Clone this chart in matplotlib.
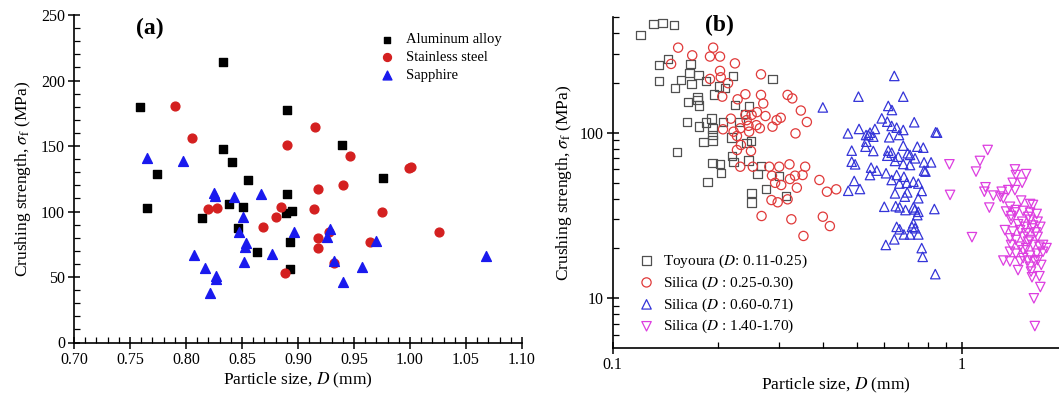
import matplotlib

matplotlib.use("Agg")
import matplotlib.pyplot as plt
from matplotlib.ticker import FixedLocator, MultipleLocator, NullFormatter

plt.rcParams["font.family"] = ["Liberation Serif", "DejaVu Serif"]
plt.rcParams["mathtext.fontset"] = "stix"

# ---- panel (a): particle size vs crushing strength, single particles ----
alu_d = [0.759, 0.833, 0.890, 0.833, 0.841, 0.774, 0.855, 0.890, 0.765, 0.814,
         0.838, 0.851, 0.846, 0.863, 0.889, 0.895, 0.893, 0.893, 0.939, 0.976]
alu_s = [179.7, 214, 177.5, 147.7, 137.8, 128.6, 124, 113.4, 102.7, 95,
         105.5, 103.7, 87.6, 69, 99, 100.6, 76.7, 55.9, 150.5, 125.3]

steel_d = [0.790, 0.805, 0.890, 0.820, 0.828, 0.885, 0.880, 0.869, 0.888, 0.915,
           0.946, 0.999, 1.001, 0.918, 0.940, 0.914, 0.975, 1.026, 0.928, 0.918,
           0.918, 0.964, 0.932]
steel_s = [180.8, 156.4, 150.5, 101.7, 102.4, 103.7, 95.5, 88.4, 52.8, 164.7,
           142.4, 133, 134.2, 117.4, 120, 102.1, 99.4, 84.6, 84.6, 80,
           72.4, 77, 60.5]

sapph_d = [0.765, 0.797, 0.825, 0.826, 0.843, 0.867, 0.851, 0.847, 0.854, 0.853,
           0.896, 0.877, 0.852, 0.807, 0.817, 0.827, 0.827, 0.821, 0.929, 0.926,
           0.970, 0.932, 0.957, 0.940, 1.068]
sapph_s = [141, 138.8, 113.9, 111.8, 111.3, 113.4, 96, 84.4, 75.7, 72.7,
           84.4, 67.6, 61.7, 66.8, 57.1, 50.8, 48.5, 38, 86.4, 80.8,
           77.7, 62.5, 57.9, 46, 66.3]

# ---- panel (b): sands ----
toy_d = [0.12, 0.131, 0.139, 0.150, 0.144, 0.136, 0.167, 0.166, 0.176, 0.136,
         0.157, 0.168, 0.185, 0.221, 0.287, 0.202, 0.210, 0.151, 0.195, 0.175,
         0.175, 0.177, 0.164, 0.224, 0.246, 0.239, 0.192, 0.163, 0.185, 0.177,
         0.193, 0.207, 0.231, 0.193, 0.219, 0.182, 0.193, 0.249, 0.242, 0.153,
         0.220, 0.222, 0.245, 0.193, 0.203, 0.204, 0.187, 0.266, 0.260, 0.300,
         0.275, 0.250, 0.250, 0.314]
toy_s = [389, 453, 458, 445, 279, 256, 259, 230, 223, 206,
         208, 197, 205, 220, 210, 190, 186, 186, 170, 164,
         158, 146, 153, 147, 144, 130, 122, 116, 115, 109,
         106, 116, 116, 96.8, 93.3, 88.2, 89.5, 89, 86.3, 76.5,
         72.6, 66.8, 67.8, 65.9, 64.4, 57.3, 50.6, 63.2, 56.3, 55,
         45.7, 43.4, 37.8, 41.6]

sil1_d = [0.154, 0.169, 0.194, 0.190, 0.203, 0.147, 0.224, 0.203, 0.204, 0.190,
          0.214, 0.266, 0.206, 0.228, 0.240, 0.266, 0.270, 0.317, 0.327, 0.346,
          0.360, 0.334, 0.259, 0.274, 0.240, 0.250, 0.218, 0.242, 0.258, 0.287,
          0.295, 0.303, 0.264, 0.245, 0.232, 0.207, 0.222, 0.227, 0.246, 0.233,
          0.227, 0.249, 0.232, 0.252, 0.281, 0.300, 0.321, 0.356, 0.286, 0.333,
          0.350, 0.292, 0.304, 0.322, 0.337, 0.391, 0.411, 0.437, 0.285, 0.297,
          0.317, 0.267, 0.325, 0.400, 0.419, 0.352]
sil1_s = [326, 293, 326, 288, 288, 260, 262, 236, 216, 211,
          199, 225, 165, 159, 170.6, 169, 150, 169, 161, 136,
          116, 99, 133, 126, 128, 128, 121.5, 119, 111, 108.7,
          119, 123, 106.3, 110, 106.3, 104.8, 101.4, 95.5, 101.4, 84.3,
          78.6, 77.5, 62.3, 62.3, 62.3, 62.3, 64.4, 62.3, 55, 55,
          55.5, 49.8, 48.3, 52.5, 46.5, 51.8, 44, 45.5, 39.2, 38,
          39.6, 31.4, 30, 31.1, 27.3, 23.8]

sil2_d = [0.641, 0.506, 0.680, 0.400, 0.616, 0.631, 0.590, 0.612, 0.731, 0.630,
          0.651, 0.680, 0.508, 0.564, 0.472, 0.546, 0.532, 0.558, 0.620, 0.661,
          0.842, 0.533, 0.530, 0.484, 0.558, 0.616, 0.630, 0.680, 0.700, 0.746,
          0.776, 0.612, 0.658, 0.711, 0.735, 0.484, 0.495, 0.644, 0.680, 0.711,
          0.780, 0.817, 0.550, 0.571, 0.607, 0.546, 0.651, 0.683, 0.780, 0.630,
          0.663, 0.696, 0.727, 0.751, 0.492, 0.473, 0.511, 0.644, 0.698, 0.768,
          0.687, 0.751, 0.600, 0.647, 0.690, 0.735, 0.746, 0.835, 0.651, 0.664,
          0.683, 0.711, 0.735, 0.720, 0.751, 0.727, 0.606, 0.641, 0.768, 0.773,
          0.840, 0.664, 0.727, 0.751, 0.850, 0.540, 0.787]
sil2_s = [220, 165, 165, 142, 145, 137, 122, 116.5, 115.6, 109.8,
          107.2, 103.8, 105.3, 105.3, 99, 100, 96.8, 94.6, 93.8, 96.8,
          100.5, 88.2, 82.3, 77.9, 77.5, 77.9, 75.7, 83.5, 75.1, 82.3,
          81.2, 72.6, 71.6, 73.4, 70, 66.8, 64.4, 67.5, 64.7, 63.8,
          66.2, 66.2, 61.5, 59, 56.9, 55.5, 55.5, 54.2, 59, 51.8,
          49.3, 49.8, 50.6, 49.3, 51.1, 44.6, 45.7, 43, 43.6, 44.5,
          41.1, 40.2, 35.7, 36, 34.1, 34.4, 31.8, 34.6, 27, 26.1,
          24.3, 24.3, 26.5, 27, 24.3, 28.4, 21, 22.7, 20.1, 17.8,
          14, 35.4, 35.4, 33.3, 100, 96.8, 58.2]

sil3_d = [1.187, 1.128, 0.922, 1.099, 1.421, 1.43, 1.53, 0.926, 1.17, 1.40,
          1.49, 1.161, 1.232, 1.302, 1.36, 1.421, 1.316, 1.29, 1.48, 1.2,
          1.07, 1.375, 1.43, 1.57, 1.60, 1.34, 1.385, 1.50, 1.57, 1.64,
          1.385, 1.49, 1.57, 1.65, 1.33, 1.40, 1.47, 1.53, 1.59, 1.65,
          1.71, 1.75, 1.375, 1.43, 1.50, 1.57, 1.385, 1.47, 1.53, 1.60,
          1.67, 1.375, 1.43, 1.50, 1.57, 1.64, 1.71, 1.316, 1.375, 1.47,
          1.55, 1.62, 1.69, 1.45, 1.57, 1.59, 1.67, 1.68, 1.61, 1.62,
          1.45, 1.52, 1.60, 1.55, 1.63, 1.42, 1.55, 1.68, 1.50, 1.58, 1.65]
sil3_s = [78.6, 67.5, 64.4, 58.2, 60, 55.5, 56.2, 42.1, 46.8, 49.8,
          49.8, 44, 41.7, 44, 45, 45, 40.2, 41.1, 38.9, 35.3,
          23.4, 35.7, 34.1, 37.1, 36.6, 33.4, 31.4, 33.7, 32.9, 32.3,
          29.8, 29, 29.8, 29, 25.8, 25.3, 25.8, 24.7, 26.4, 23.5,
          21, 20.1, 23, 22.5, 23.5, 22.5, 21, 20.5, 20.1, 21,
          20.5, 19.1, 18.6, 19.5, 18.1, 18.6, 19.1, 16.9, 16.7, 16.7,
          16.9, 16.7, 15.9, 14.8, 15.5, 13.4, 13.6, 11.7, 10, 6.8,
          28, 27, 27.5, 22, 25, 33, 31, 27, 17.5, 14.5, 17]

fig = plt.figure(figsize=(10.59, 4.0), dpi=100)

# ---------------- (a) ----------------
ax1 = fig.add_axes([74 / 1059, 0.14375, 448 / 1059, 0.81875])
ax1.scatter(alu_d, alu_s, marker="s", s=30, color="black", label="Aluminum alloy", zorder=3)
ax1.scatter(steel_d, steel_s, marker="o", s=40, color="#d42020", label="Stainless steel", zorder=3)
ax1.scatter(sapph_d, sapph_s, marker="^", s=50, color="#1a1aee", label="Sapphire", zorder=3)
ax1.set_xlim(0.70, 1.10)
ax1.set_ylim(0, 250)
ax1.xaxis.set_major_locator(MultipleLocator(0.05))
ax1.xaxis.set_minor_locator(MultipleLocator(0.01))
ax1.yaxis.set_major_locator(MultipleLocator(50))
ax1.yaxis.set_minor_locator(MultipleLocator(10))
ax1.xaxis.set_major_formatter(plt.FuncFormatter(lambda v, p: f"{v:.2f}"))
ax1.set_xlabel("Particle size, $D$ (mm)", fontsize=12.5, labelpad=2)
ax1.set_ylabel(r"Crushing strength, $\sigma_\mathrm{f}$ (MPa)", fontsize=12.5, labelpad=6)
ax1.text(0.17, 0.96, "(a)", transform=ax1.transAxes, fontsize=17, fontweight="bold",
         ha="center", va="center")
ax1.legend(loc="upper left", bbox_to_anchor=(0.67, 0.962), frameon=False, fontsize=10.5,
           handletextpad=0.8, labelspacing=0.3, borderaxespad=0, handlelength=1.0,
           markerscale=0.9)

# ---------------- (b) ----------------
ax2 = fig.add_axes([612.7 / 1059, 0.1295, 446.3 / 1059, 0.8283])
ax2.set_xscale("log")
ax2.set_yscale("log")
ax2.scatter(toy_d, toy_s, marker="s", s=36, facecolors="none", edgecolors="#505050",
            linewidths=0.9, label="Toyoura ($D$: 0.11-0.25)")
ax2.scatter(sil1_d, sil1_s, marker="o", s=44, facecolors="none", edgecolors="#e03a3a",
            linewidths=0.9, label="Silica ($D$ : 0.25-0.30)")
ax2.scatter(sil2_d, sil2_s, marker="^", s=46, facecolors="none", edgecolors="#3434d8",
            linewidths=0.9, label="Silica ($D$ : 0.60-0.71)")
ax2.scatter(sil3_d, sil3_s, marker="v", s=46, facecolors="none", edgecolors="#dd3ee0",
            linewidths=0.9, label="Silica ($D$ : 1.40-1.70)")
ax2.set_xlim(0.1, 1.90)
ax2.set_ylim(5, 500)
ax2.xaxis.set_major_locator(FixedLocator([0.1, 1]))
ax2.xaxis.set_minor_locator(FixedLocator([0.2, 0.3, 0.4, 0.5, 0.6, 0.7, 0.8, 0.9]))
ax2.xaxis.set_major_formatter(plt.FuncFormatter(lambda v, p: f"{v:g}"))
ax2.xaxis.set_minor_formatter(NullFormatter())
ax2.yaxis.set_major_locator(FixedLocator([10, 100]))
ax2.yaxis.set_minor_locator(FixedLocator([6, 7, 8, 9, 20, 30, 40, 50, 60, 70, 80, 90,
                                          200, 300, 400, 500]))
ax2.yaxis.set_major_formatter(plt.FuncFormatter(lambda v, p: f"{v:g}"))
ax2.yaxis.set_minor_formatter(NullFormatter())
ax2.set_xlabel("Particle size, $D$ (mm)", fontsize=12.5, labelpad=2)
ax2.set_ylabel(r"Crushing strength, $\sigma_\mathrm{f}$ (MPa)", fontsize=12.5, labelpad=4)
ax2.text(0.24, 0.975, "(b)", transform=ax2.transAxes, fontsize=17, fontweight="bold",
         ha="center", va="center")
ax2.legend(loc="lower left", bbox_to_anchor=(0.045, 0.02), frameon=False, fontsize=11,
           handletextpad=0.6, labelspacing=0.3, borderaxespad=0, handlelength=1.0)

for ax in (ax1, ax2):
    ax.spines["top"].set_visible(False)
    ax.spines["right"].set_visible(False)
    ax.spines["left"].set_linewidth(1.2)
    ax.spines["bottom"].set_linewidth(1.2)
    ax.tick_params(which="major", direction="inout", length=9, width=1.1, labelsize=11.5,
                   pad=2)
    ax.tick_params(which="minor", direction="in", length=4, width=0.9)

fig.savefig("out.png", dpi=100)
